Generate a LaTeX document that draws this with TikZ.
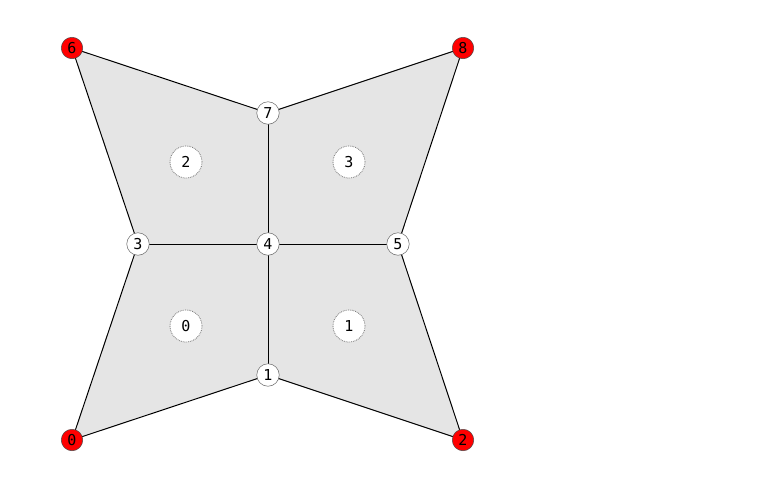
\documentclass[tikz,border=0pt]{standalone}
\usepackage{fontspec}
\newfontfamily\monof{DejaVu Sans Mono}
\begin{document}
\begin{tikzpicture}[x=1pt,y=-1pt,
  vert/.style={circle,draw=black!60,line width=0.5pt,fill=white,minimum size=22.5pt,inner sep=0pt,font=\monof\fontsize{15}{17}\selectfont},
  bvert/.style={vert,fill=red,draw=black!70,minimum size=21.5pt},
  cell/.style={circle,draw=black!55,densely dotted,line width=0.8pt,fill=white,minimum size=32pt,inner sep=0pt,font=\monof\fontsize{15}{17}\selectfont},
  edge/.style={draw=black,line width=1pt}]
\useasboundingbox (0,0) rectangle (771,490);
\coordinate (p0) at (72,440);
\coordinate (p1) at (268,375);
\coordinate (p2) at (463,440);
\coordinate (p3) at (138,244);
\coordinate (p4) at (268,244);
\coordinate (p5) at (398,244);
\coordinate (p6) at (72,48);
\coordinate (p7) at (268,113);
\coordinate (p8) at (463,48);
\fill[black!10] (p0)--(p1)--(p2)--(p5)--(p8)--(p7)--(p6)--(p3)--cycle;
\draw[edge] (p0)--(p1)--(p2)--(p5)--(p8)--(p7)--(p6)--(p3)--cycle;
\draw[edge] (p3)--(p5) (p7)--(p1);
\node[cell] (c0) at (186,326) {0};
\node[cell] (c1) at (349,326) {1};
\node[cell] (c2) at (186,162) {2};
\node[cell] (c3) at (349,162) {3};
\node[bvert] (n0) at (p0) {0};
\node[vert] (n1) at (p1) {1};
\node[bvert] (n2) at (p2) {2};
\node[vert] (n3) at (p3) {3};
\node[vert] (n4) at (p4) {4};
\node[vert] (n5) at (p5) {5};
\node[bvert] (n6) at (p6) {6};
\node[vert] (n7) at (p7) {7};
\node[bvert] (n8) at (p8) {8};
\end{tikzpicture}
\end{document}
